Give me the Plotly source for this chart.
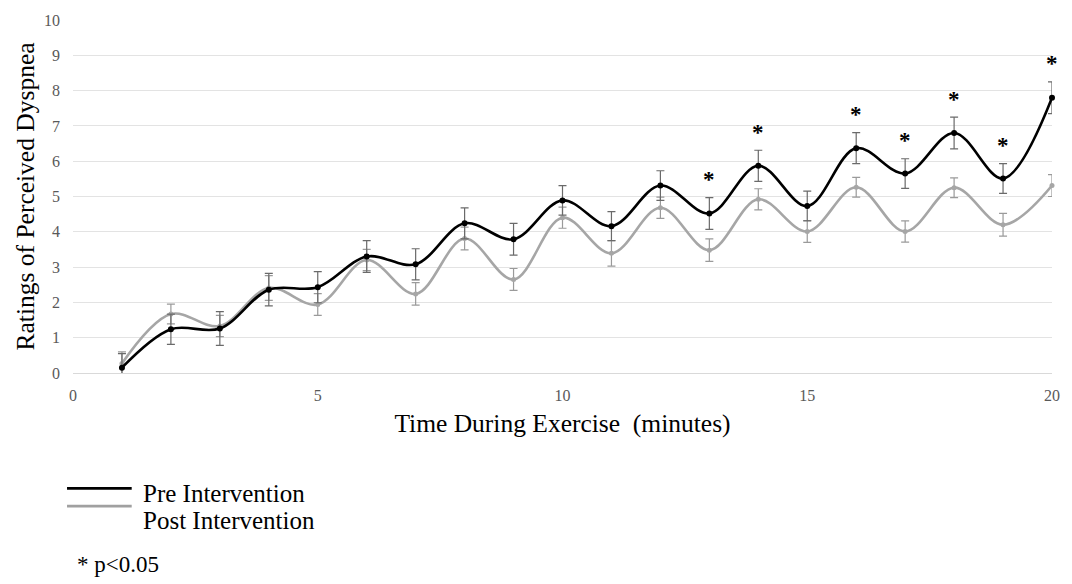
import plotly.graph_objects as go

minutes = list(range(1, 21))
pre_mean = [0.15, 1.24, 1.26, 2.36, 2.43, 3.30, 3.08, 4.24, 3.79, 4.89, 4.16, 5.31,
            4.52, 5.87, 4.73, 6.37, 5.65, 6.80, 5.51, 7.80]
pre_err = [0.40, 0.43, 0.48, 0.46, 0.44, 0.45, 0.44, 0.44, 0.45, 0.42, 0.41, 0.42,
           0.45, 0.44, 0.42, 0.44, 0.42, 0.45, 0.42, 0.45]
post_mean = [0.27, 1.67, 1.33, 2.41, 1.94, 3.20, 2.24, 3.81, 2.65, 4.40, 3.39, 4.68,
             3.48, 4.92, 4.01, 5.26, 4.01, 5.25, 4.20, 5.31]
post_err = [0.33, 0.28, 0.30, 0.35, 0.31, 0.30, 0.32, 0.32, 0.31, 0.30, 0.36, 0.30,
            0.32, 0.30, 0.31, 0.28, 0.30, 0.28, 0.32, 0.31]
sig_minutes = [13, 14, 16, 17, 18, 19, 20]
y_ticks = list(range(0, 11))
x_ticks = [0, 5, 10, 15, 20]

SERIF = "Liberation Serif, Times New Roman, serif"

fig = go.Figure()
fig.add_trace(go.Scatter(
    x=minutes, y=post_mean, name="Post Intervention", mode="lines+markers",
    line=dict(color="#a6a6a6", width=2.6, shape="spline", smoothing=1.0),
    marker=dict(color="#a6a6a6", size=5),
    error_y=dict(type="data", array=post_err, color="#9a9a9a", thickness=1.2, width=4),
    cliponaxis=False, showlegend=False))
fig.add_trace(go.Scatter(
    x=minutes, y=pre_mean, name="Pre Intervention", mode="lines+markers",
    line=dict(color="#000000", width=2.6, shape="spline", smoothing=1.0),
    marker=dict(color="#000000", size=6),
    error_y=dict(type="data", array=pre_err, color="#6a6a6a", thickness=1.2, width=4),
    cliponaxis=False, showlegend=False))

idx = {m: i for i, m in enumerate(minutes)}
for m in sig_minutes:
    i = idx[m]
    fig.add_annotation(x=m, y=pre_mean[i] + pre_err[i] + 0.10, xref="x", yref="y",
                       text="<b>*</b>", showarrow=False, yanchor="bottom",
                       font=dict(family=SERIF, size=23, color="#000000"))

# manual legend below the chart
PLOT_L, PLOT_W, PLOT_B, PLOT_H = 73, 984, 373, 358
leg_items = [("Pre Intervention", "#000000", 490, 495), ("Post Intervention", "#a0a0a0", 508, 523)]
for name, col, ly, ty in leg_items:
    fig.add_shape(type="line", xref="paper", yref="paper",
                  x0=(67 - PLOT_L) / PLOT_W, x1=(132 - PLOT_L) / PLOT_W,
                  y0=(PLOT_B - ly) / PLOT_H, y1=(PLOT_B - ly) / PLOT_H,
                  line=dict(color=col, width=2.8))
    fig.add_annotation(xref="paper", yref="paper", x=(141 - PLOT_L) / PLOT_W,
                       y=(PLOT_B - ty) / PLOT_H,
                       text=name, showarrow=False, xanchor="left", yanchor="middle",
                       font=dict(family=SERIF, size=25, color="#000000"))
fig.add_annotation(xref="paper", yref="paper", x=(75 - PLOT_L) / PLOT_W,
                   y=(PLOT_B - 567) / PLOT_H,
                   text="* p<0.05", showarrow=False, xanchor="left", yanchor="middle",
                   font=dict(family=SERIF, size=23, color="#000000"))

fig.update_layout(
    width=1072, height=584,
    margin=dict(l=73, r=15, t=15, b=211),
    plot_bgcolor="white", paper_bgcolor="white",
    font=dict(family=SERIF, color="#000000"),
    xaxis=dict(range=[0, 20], tickvals=x_ticks, showgrid=False, zeroline=False,
               showline=True, linecolor="#d9d9d9", linewidth=1,
               tickfont=dict(family=SERIF, size=16, color="#595959"), ticks="",
               ticklabelstandoff=8,
               title=dict(text="Time During Exercise  (minutes)",
                          font=dict(family=SERIF, size=25.5, color="#000000"), standoff=10)),
    yaxis=dict(range=[0, 10], tickvals=y_ticks, showgrid=True, gridcolor="#e3e3e3",
               gridwidth=1, zeroline=False, showline=False,
               tickfont=dict(family=SERIF, size=16, color="#595959"), ticks="",
               ticklabelstandoff=12,
               title=dict(text="Ratings of Perceived Dyspnea",
                          font=dict(family=SERIF, size=25.5, color="#000000"), standoff=2)),
)

fig.write_html("out.html")
